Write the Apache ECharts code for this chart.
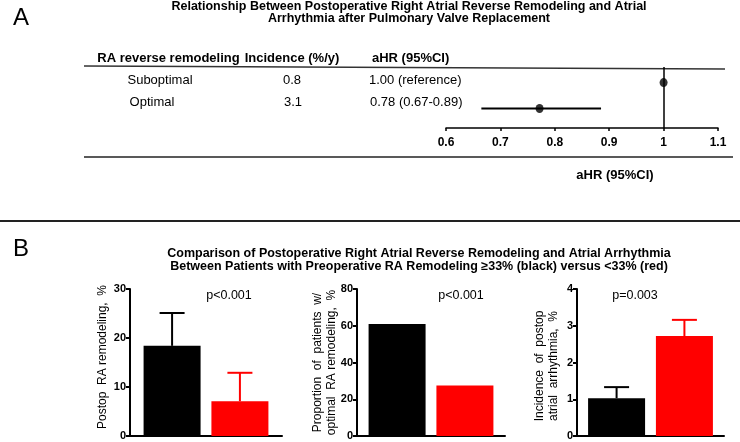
<!DOCTYPE html>
<html><head><meta charset="utf-8">
<script src="https://cdn.jsdelivr.net/npm/echarts@6/dist/echarts.min.js"></script>
<style>html,body{margin:0;padding:0;background:#fff}#c{width:740px;height:442px}</style>
</head><body><div id="c"></div>
<script>
const FONT = '"Liberation Sans", Arial, Helvetica, sans-serif';

// ---------- Panel A data ----------
const forestTitle = ['Relationship Between Postoperative Right Atrial Reverse Remodeling and Atrial', 'Arrhythmia after Pulmonary Valve Replacement'];
const forestHeaders = ['RA reverse remodeling', 'Incidence (%/y)', 'aHR (95%CI)'];
const forestGroups = ['Suboptimal', 'Optimal'];
const forestIncidence = ['0.8', '3.1'];
const forestHRText = ['1.00 (reference)', '0.78 (0.67-0.89)'];
const forestHR = [1.0, 0.772];
const forestLow = [null, 0.665];
const forestHigh = [null, 0.885];
const forestAxisName = 'aHR (95%CI)';
const forestAxis = { min: 0.6, max: 1.1, interval: 0.1 };

// ---------- Panel B data ----------
const barTitle = ['Comparison of Postoperative Right Atrial Reverse Remodeling and Atrial Arrhythmia', 'Between Patients with Preoperative RA Remodeling \u226533% (black) versus <33% (red)'];
const barGroups = ['\u226533%', '<33%'];
const remodelMean = [18.4, 7.1];
const remodelSD = [6.7, 5.8];
const optimalProp = [61, 27.5];
const arrhythmiaMean = [1.03, 2.72];
const arrhythmiaSD = [0.30, 0.44];
const pValues = ['p<0.001', 'p<0.001', 'p=0.003'];
const yNames = ['Postop  RA remodeling,  %', 'Proportion  of  patients  w/\noptimal  RA remodeling,  %', 'Incidence  of  postop\natrial  arrhythmia,  %'];
const yMax = [30, 80, 4];
const yInterval = [10, 20, 1];

// ---------- layout ----------
const BAR_W = 57, GAP = 0.19;
const ERR_OFF = BAR_W * (1 + GAP) / 2;
const COLORS = ['#000000', '#ff0000'];
const gridsB = [
  { left: 130, width: 152, top: 289, bottom: 6 },
  { left: 357, width: 148, top: 289, bottom: 6 },
  { left: 577, width: 147, top: 289, bottom: 6 }
];
const means = [remodelMean, optimalProp, arrhythmiaMean];
const sds = [remodelSD, null, arrhythmiaSD];

function errRender(offset) {
  return function (params, api) {
    const c0 = api.coord([api.value(0), api.value(1)]);
    const c1 = api.coord([api.value(0), api.value(1) + api.value(2)]);
    const x = c0[0] + offset;
    const color = api.visual('color');
    return { type: 'group', children: [
      { type: 'line', shape: { x1: x, y1: c0[1], x2: x, y2: c1[1] }, style: { stroke: color, lineWidth: 2 } },
      { type: 'line', shape: { x1: x - 12.5, y1: c1[1], x2: x + 12.5, y2: c1[1] }, style: { stroke: color, lineWidth: 2 } }
    ]};
  };
}

const grid = [{ left: 446, right: 22, top: 67, bottom: 314 }].concat(gridsB);
const xAxis = [{
  gridIndex: 0, type: 'value', position: 'bottom', min: forestAxis.min, max: forestAxis.max, interval: forestAxis.interval,
  axisLine: { show: true, onZero: false, lineStyle: { color: '#000', width: 1.5 } },
  axisTick: { show: true, length: 3, lineStyle: { color: '#000', width: 1.5 } },
  axisLabel: { color: '#000', fontWeight: 'bold', fontSize: 12, fontFamily: FONT, margin: 9 },
  splitLine: { show: false }
}];
const yAxis = [{ gridIndex: 0, type: 'value', inverse: true, min: -0.6, max: 1.75, show: false }];
const series = [];

// Forest CI lines
series.push({
  type: 'custom', xAxisIndex: 0, yAxisIndex: 0, z: 3,
  data: forestLow.map((lo, i) => lo == null ? null : [lo, forestHigh[i], i]).filter(d => d),
  renderItem: function (params, api) {
    const a = api.coord([api.value(0), api.value(2)]);
    const b = api.coord([api.value(1), api.value(2)]);
    return { type: 'line', shape: { x1: a[0], y1: a[1], x2: b[0], y2: b[1] }, style: { stroke: '#000', lineWidth: 2 } };
  },
  encode: { x: [0, 1], y: 2 }
});
// Forest points + reference line
series.push({
  type: 'scatter', xAxisIndex: 0, yAxisIndex: 0, z: 5,
  symbol: 'circle', symbolSize: [8, 9],
  itemStyle: { color: '#000' },
  data: forestHR.map((v, i) => [v, i]),
  markLine: {
    silent: true, symbol: ['none', 'none'], label: { show: false },
    lineStyle: { color: '#000', width: 1.5, type: 'solid' },
    data: [{ xAxis: 1 }]
  }
});

gridsB.forEach((g, k) => {
  const gi = k + 1;
  xAxis.push({
    gridIndex: gi, type: 'category', data: [''],
    axisLine: { show: true, lineStyle: { color: '#000', width: 2 } },
    axisTick: { show: false }, axisLabel: { show: false }
  });
  yAxis.push({
    gridIndex: gi, type: 'value', min: 0, max: yMax[k], interval: yInterval[k],
    axisLine: { show: true, lineStyle: { color: '#000', width: 2 } },
    axisTick: { show: true, length: 4, lineStyle: { color: '#000', width: 2 } },
    axisLabel: { color: '#000', fontWeight: 'bold', fontSize: 11, fontFamily: FONT, margin: 4 },
    splitLine: { show: false }
  });
  barGroups.forEach((name, j) => {
    series.push({
      type: 'bar', name: name, xAxisIndex: gi, yAxisIndex: gi,
      barWidth: BAR_W, barGap: (GAP * 100) + '%',
      itemStyle: { color: COLORS[j] },
      data: [means[k][j]]
    });
  });
  if (sds[k]) {
    barGroups.forEach((name, j) => {
      series.push({
        type: 'custom', xAxisIndex: gi, yAxisIndex: gi, z: 4,
        itemStyle: { color: COLORS[j] },
        data: [[0, means[k][j], sds[k][j]]],
        renderItem: errRender(j === 0 ? -ERR_OFF : ERR_OFF)
      });
    });
  }
});

function txt(x, y, text, opt) {
  opt = opt || {};
  return {
    type: 'text', x: x, y: y, rotation: opt.rot || 0, silent: true,
    style: {
      text: text, fill: '#000', font: (opt.weight || 'normal') + ' ' + (opt.size || 13) + 'px ' + FONT,
      textAlign: opt.align || 'center', textVerticalAlign: 'middle', lineHeight: opt.lh || 14
    }
  };
}

const graphic = [
  txt(13, 18.5, 'A', { size: 24, align: 'left' }),
  txt(409, 6.5, forestTitle[0], { size: 12.5, weight: 'bold' }),
  txt(409, 19, forestTitle[1], { size: 12.5, weight: 'bold' }),
  txt(168.5, 58, forestHeaders[0], { weight: 'bold' }),
  txt(292, 58, forestHeaders[1], { weight: 'bold' }),
  txt(372, 58, forestHeaders[2], { weight: 'bold', align: 'left' }),
  txt(160, 80, forestGroups[0]),
  txt(152, 102.5, forestGroups[1]),
  txt(292, 80, forestIncidence[0]),
  txt(293, 102.5, forestIncidence[1]),
  txt(369, 80, forestHRText[0], { align: 'left' }),
  txt(370, 102.5, forestHRText[1], { align: 'left' }),
  txt(615, 175, forestAxisName, { weight: 'bold' }),
  { type: 'line', silent: true, shape: { x1: 84, y1: 66, x2: 725, y2: 69 }, style: { stroke: '#333', lineWidth: 1.5 } },
  { type: 'line', silent: true, shape: { x1: 84, y1: 157, x2: 733, y2: 157 }, style: { stroke: '#222', lineWidth: 1.5 } },
  { type: 'line', silent: true, shape: { x1: 0, y1: 221, x2: 740, y2: 221 }, style: { stroke: '#222', lineWidth: 2 } },
  txt(13, 249, 'B', { size: 24, align: 'left' }),
  txt(419, 254, barTitle[0], { size: 12.5, weight: 'bold' }),
  txt(419, 267, barTitle[1], { size: 12.5, weight: 'bold' }),
  txt(229, 296, pValues[0], { size: 12.5 }),
  txt(461, 296, pValues[1], { size: 12.5 }),
  txt(635, 296, pValues[2], { size: 12.5 }),
  txt(103, 357, yNames[0], { size: 12, rot: Math.PI / 2 }),
  txt(325, 362.5, yNames[1], { size: 12, rot: Math.PI / 2 }),
  txt(547, 366, yNames[2], { size: 12, rot: Math.PI / 2 })
];

const chart = echarts.init(document.getElementById('c'), null, { renderer: 'canvas' });
chart.setOption({
  animation: false,
  backgroundColor: '#fff',
  textStyle: { fontFamily: FONT },
  grid: grid, xAxis: xAxis, yAxis: yAxis, series: series, graphic: graphic
});
</script></body></html>
